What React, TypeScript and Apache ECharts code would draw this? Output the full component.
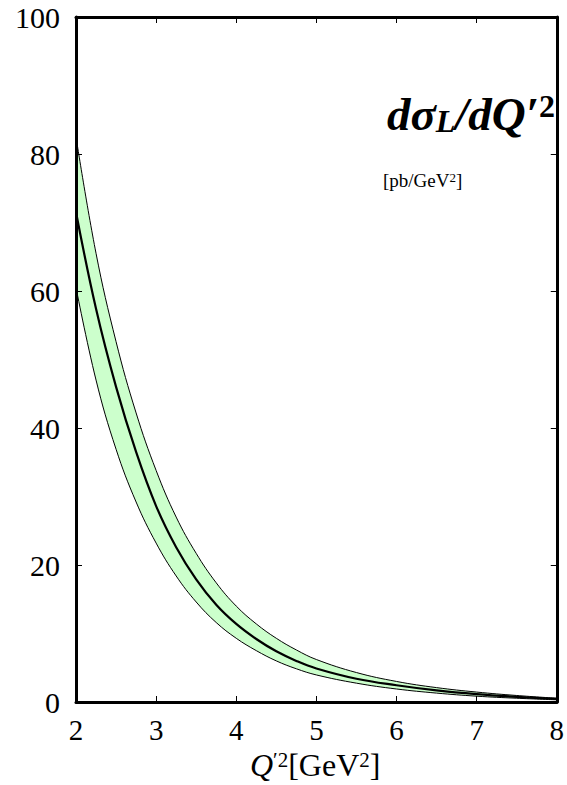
import React, { useEffect, useRef } from "react";
import * as echarts from "echarts";

const xValues = [2, 2.25, 2.5, 2.75, 3, 3.25, 3.5, 3.75, 4, 4.25, 4.5, 4.75, 5, 5.5, 6, 6.5, 7, 7.5, 8];
const centerValues = [71.5, 57.4, 46, 36.5, 28.6, 22.6, 17.9, 14.2, 11.4, 9.2, 7.4, 6.0, 4.9, 3.4, 2.45, 1.7, 1.15, 0.75, 0.45];
const upperValues = [82.5, 65.5, 52.6, 42.2, 33.8, 27.0, 21.7, 17.4, 14, 11.4, 9.3, 7.6, 6.2, 4.3, 3.0, 2.1, 1.45, 0.95, 0.55];
const lowerValues = [60.5, 47.0, 36.9, 29.2, 23.2, 18.4, 14.6, 11.6, 9.3, 7.5, 6.0, 4.85, 3.95, 2.75, 1.9, 1.3, 0.85, 0.55, 0.32];
const xTicks = [2, 3, 4, 5, 6, 7, 8];
const yTicks = [0, 20, 40, 60, 80, 100];

const FONT = "'Liberation Serif', 'DejaVu Serif', serif";

export default function App() {
  const ref = useRef<HTMLDivElement>(null);
  useEffect(() => {
    if (!ref.current) return;
    const chart = echarts.init(ref.current, undefined, { renderer: "svg" });
    const pair = (ys: number[]) => xValues.map((x, i) => [x, ys[i]]);
    const axisCommon = {
      z: 10,
      axisLine: { show: true, onZero: false, lineStyle: { color: "#000", width: 3 } },
      axisTick: { show: true, inside: true, length: 6, lineStyle: { color: "#000", width: 1 } },
      splitLine: { show: false },
    };
    const lineCommon = {
      type: "line",
      smooth: 0.4,
      symbol: "none",
    };
    chart.setOption({
      animation: false,
      backgroundColor: "#fff",
      grid: { left: 76, top: 17, width: 489, height: 685, containLabel: false },
      xAxis: [
        {
          type: "value",
          position: "bottom",
          min: xTicks[0],
          max: xTicks[xTicks.length - 1],
          interval: 1,
          ...axisCommon,
          axisLabel: { show: true, margin: 13, color: "#000", fontFamily: FONT, fontSize: 29 },
        },
        {
          type: "value",
          position: "top",
          min: xTicks[0],
          max: xTicks[xTicks.length - 1],
          interval: 1,
          ...axisCommon,
          axisLabel: { show: false },
        },
      ],
      yAxis: [
        {
          type: "value",
          position: "left",
          min: yTicks[0],
          max: yTicks[yTicks.length - 1],
          interval: 20,
          ...axisCommon,
          axisLabel: { show: true, margin: 16, color: "#000", fontFamily: FONT, fontSize: 30 },
        },
        {
          type: "value",
          position: "right",
          min: yTicks[0],
          max: yTicks[yTicks.length - 1],
          interval: 20,
          ...axisCommon,
          axisLabel: { show: false },
        },
      ],
      series: [
        {
          ...lineCommon,
          name: "upper",
          data: pair(upperValues),
          lineStyle: { color: "#000", width: 1 },
          areaStyle: { color: "#ccffcc", opacity: 1 },
          z: 2,
        },
        {
          ...lineCommon,
          name: "lower",
          data: pair(lowerValues),
          lineStyle: { color: "#000", width: 1 },
          areaStyle: { color: "#ffffff", opacity: 1 },
          z: 3,
        },
        {
          ...lineCommon,
          name: "center",
          data: pair(centerValues),
          lineStyle: { color: "#000", width: 2.2 },
          z: 4,
        },
      ],
      graphic: [
        {
          type: "text",
          right: 12,
          top: 90,
          z: 20,
          style: {
            text: "{b|dσ}{sub|L}{b|/dQ′}{sup|2}",
            rich: {
              b: { fontFamily: FONT, fontSize: 47, fontWeight: "bold", fontStyle: "italic", fill: "#000", verticalAlign: "middle" },
              sub: { fontFamily: FONT, fontSize: 32, fontWeight: "bold", fontStyle: "italic", fill: "#000", verticalAlign: "bottom" },
              sup: { fontFamily: FONT, fontSize: 32, fontWeight: "bold", fill: "#000", verticalAlign: "top" },
            },
          },
        },
        {
          type: "text",
          left: 383,
          top: 171,
          z: 20,
          style: {
            text: "{n|[pb/GeV}{s|2}{n|]}",
            rich: {
              n: { fontFamily: FONT, fontSize: 19, fill: "#000", verticalAlign: "middle" },
              s: { fontFamily: FONT, fontSize: 13, fill: "#000", verticalAlign: "top" },
            },
          },
        },
        {
          type: "text",
          left: 250,
          top: 749,
          z: 20,
          style: {
            text: "{i|Q}{s|′2}{n|[GeV}{s|2}{n|]}",
            rich: {
              i: { fontFamily: FONT, fontSize: 32, fontStyle: "italic", fill: "#000", verticalAlign: "middle" },
              n: { fontFamily: FONT, fontSize: 32, fill: "#000", verticalAlign: "middle" },
              s: { fontFamily: FONT, fontSize: 21, fill: "#000", verticalAlign: "top" },
            },
          },
        },
      ],
    });
    return () => chart.dispose();
  }, []);
  return <div ref={ref} style={{ position: "absolute", left: 0, top: 0, width: 567, height: 785 }} />;
}
